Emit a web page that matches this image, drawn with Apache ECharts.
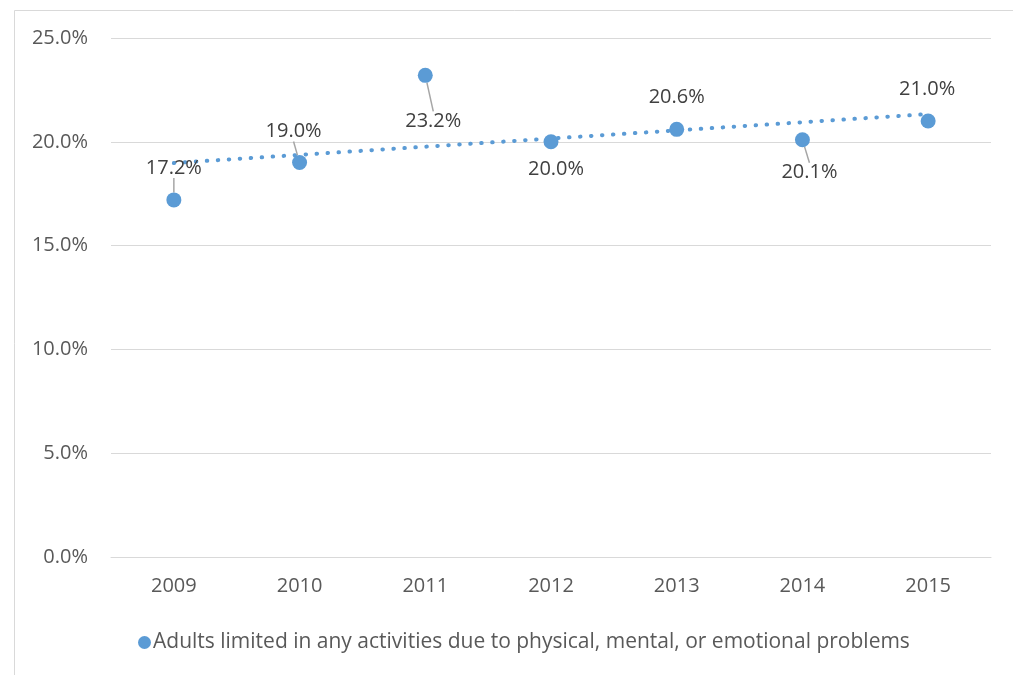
<!DOCTYPE html>
<html>
<head>
<meta charset="utf-8">
<script src="https://cdn.jsdelivr.net/npm/echarts@6/dist/echarts.min.js"></script>
<style>
  html, body { margin: 0; padding: 0; background: #ffffff; }
  #chart { width: 1013px; height: 675px; }
</style>
</head>
<body>
<div id="chart"></div>
<script>
// Share of adults limited in any activities, by year (%)
const years = ['2009', '2010', '2011', '2012', '2013', '2014', '2015'];
const limitedPct = [17.2, 19.0, 23.2, 20.0, 20.6, 20.1, 21.0];
const seriesName = 'Adults limited in any activities due to physical, mental, or emotional problems';
const yTicks = [0, 5, 10, 15, 20, 25];

// Where each value label sits relative to its marker, and whether a leader line is drawn
const labelShift = [[0, -32, true], [-6, -31, true], [8, 46, true], [5, 27, false], [0, -32, false], [7, 33, true], [-1, -32, false]];

// Least-squares linear trend across the years
function linearTrend(vals) {
  const n = vals.length;
  const mx = (n - 1) / 2;
  const my = vals.reduce((a, b) => a + b, 0) / n;
  let sxy = 0, sxx = 0;
  vals.forEach((v, i) => { sxy += (i - mx) * (v - my); sxx += (i - mx) * (i - mx); });
  const slope = sxy / sxx;
  return [[0, my - slope * mx], [n - 1, my + slope * (n - 1 - mx)]];
}

const blue = '#5B9BD5';
const font = '"Open Sans", "Noto Sans", sans-serif';

const chart = echarts.init(document.getElementById('chart'));
chart.setOption({
  animation: false,
  backgroundColor: '#ffffff',
  graphic: [{
    type: 'rect',
    left: 12, top: 8,
    shape: { width: 1010, height: 700 },
    style: { fill: 'none', stroke: '#D9D9D9', lineWidth: 1 },
    silent: true, z: -1
  }],
  grid: { left: 111, right: 22, top: 38, bottom: 118 },
  xAxis: {
    type: 'category',
    data: years,
    boundaryGap: true,
    axisLine: { show: true, lineStyle: { color: '#D9D9D9', width: 1 } },
    axisTick: { show: false },
    axisLabel: { color: '#595959', fontFamily: font, fontSize: 20, margin: 19 }
  },
  yAxis: {
    type: 'value',
    min: yTicks[0], max: yTicks[yTicks.length - 1], interval: 5,
    axisLine: { show: false },
    axisTick: { show: false },
    splitLine: { lineStyle: { color: '#D9D9D9', width: 1 } },
    axisLabel: { color: '#595959', fontFamily: font, fontSize: 20, margin: 23,
      formatter: v => v.toFixed(1) + '%' }
  },
  legend: {
    bottom: 17, left: 133,
    data: [{ name: seriesName, icon: 'circle' }],
    itemWidth: 13, itemHeight: 13, itemGap: 4,
    itemStyle: { opacity: 1 },
    textStyle: { color: '#595959', fontFamily: font, fontSize: 21, padding: [0, 0, 0, -3] }
  },
  series: [
    {
      name: 'trend',
      type: 'line',
      data: linearTrend(limitedPct),
      symbol: 'none',
      silent: true,
      z: 1,
      lineStyle: { color: blue, width: 4, type: [0.5, 10.5], cap: 'round' }
    },
    {
      name: seriesName,
      type: 'scatter',
      symbol: 'circle',
      symbolSize: 15,
      z: 2,
      itemStyle: { color: blue, opacity: 1 },
      data: limitedPct.map((v, i) => ({
        value: [i, v],
        labelLine: { show: labelShift[i][2] }
      })),
      label: {
        show: true,
        position: 'inside',
        color: '#404040',
        fontFamily: font,
        fontSize: 20,
        formatter: p => p.value[1].toFixed(1) + '%'
      },
      labelLine: { show: true, lineStyle: { color: '#A6A6A6', width: 1.5 } },
      labelLayout: p => ({ dx: labelShift[p.dataIndex][0], dy: labelShift[p.dataIndex][1] })
    }
  ]
});
</script>
</body>
</html>
